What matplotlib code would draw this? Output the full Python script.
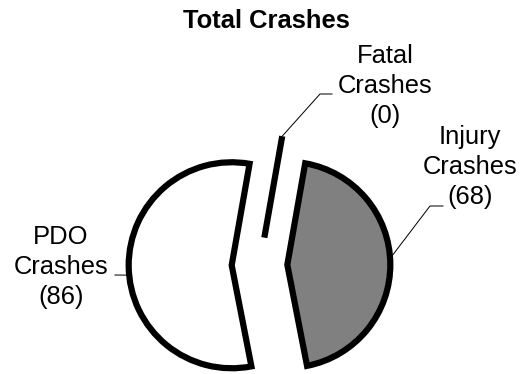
import numpy as np
import matplotlib
matplotlib.use("Agg")
import matplotlib.pyplot as plt

plt.rcParams['font.family'] = ['Liberation Sans', 'DejaVu Sans']

# crash counts by severity, in drawing order (clockwise from the top)
categories = ["Fatal", "Injury", "PDO"]
counts = [0, 68, 86]
colors = ["#808080", "#808080", "#ffffff"]

W, H = 532, 374
fig = plt.figure(figsize=(W / 72, H / 72), dpi=72)
ax = fig.add_axes([0, 0, 1, 1])

# pixel scale: pie radius 103 px, centre at (259.5, 265) from top-left
R = 103.0
cx, cy = 259.5, 265.0

wedges, _ = ax.pie(counts, colors=colors, startangle=80, counterclock=False,
                   explode=[0.27] * 3, radius=1.0,
                   wedgeprops=dict(edgecolor="black", linewidth=6.2,
                                   joinstyle="miter"))

ax.set_xlim(-cx / R, (W - cx) / R)
ax.set_ylim(-(H - cy) / R, cy / R)
ax.set_aspect("auto")
ax.axis("off")


def px(x, y):
    return (x - cx) / R, (cy - y) / R


def arc_point(w, ang):
    t = np.deg2rad(ang)
    return w.center[0] + w.r * np.cos(t), w.center[1] + w.r * np.sin(t)


lbl_kw = dict(ha="center", va="center", fontsize=25.5, linespacing=1.3,
              multialignment="center")

# Fatal: leader from the tip of the zero-width slice
w = wedges[0]
p0 = arc_point(w, w.theta1)
e1, e2 = px(320, 94), px(332, 94)
ax.plot([p0[0], e1[0], e2[0]], [p0[1], e1[1], e2[1]], color="black", lw=1)
ax.text(*px(385, 86), "%s\nCrashes\n(%d)" % (categories[0], counts[0]), **lbl_kw)

# Injury
w = wedges[1]
p0 = arc_point(w, 0.5 * (w.theta1 + w.theta2) + 3)
e1, e2 = px(430, 206), px(443, 206)
ax.plot([p0[0], e1[0], e2[0]], [p0[1], e1[1], e2[1]], color="black", lw=1)
ax.text(*px(470, 167), "%s\nCrashes\n(%d)" % (categories[1], counts[1]), **lbl_kw)

# PDO
w = wedges[2]
p0 = arc_point(w, 0.5 * (w.theta1 + w.theta2) + 5)
e2 = px(115, 275)
ax.plot([p0[0], e2[0]], [p0[1], e2[1]], color="black", lw=1)
ax.text(*px(61, 267), "%s\nCrashes\n(%d)" % (categories[2], counts[2]), **lbl_kw)

fig.text(266 / W, 1 - 28 / H, "Total Crashes", ha="center", va="baseline",
         fontsize=25.5, fontweight="bold")

fig.savefig("out.png", dpi=72, facecolor="white")
